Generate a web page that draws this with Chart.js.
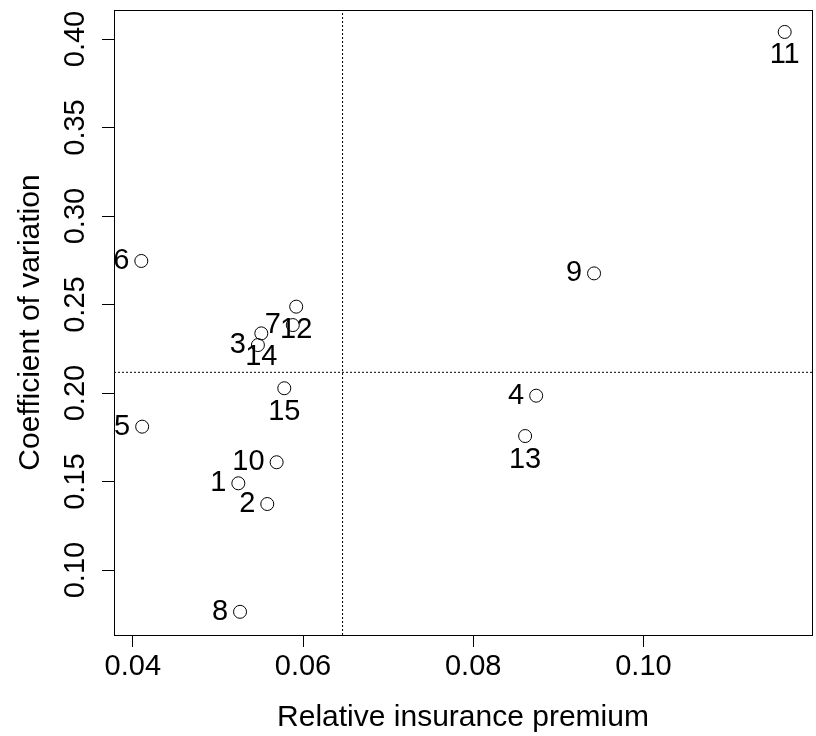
<!DOCTYPE html>
<html>
<head>
<meta charset="utf-8">
<script src="https://cdn.jsdelivr.net/npm/chart.js@4.4.1/dist/chart.umd.min.js"></script>
<style>
  html, body { margin: 0; padding: 0; background: #ffffff; }
  #wrap { width: 816px; height: 736px; }
</style>
</head>
<body>
<div id="wrap"><canvas id="cvPlot"></canvas></div>
<script>
// numero des observations
const ids = ['1', '2', '3', '4', '5', '6', '7', '8', '9', '10', '11', '12', '13', '14', '15'];
// prime d'assurance relative
const premium = [0.0524, 0.0558, 0.0547, 0.0874, 0.0411, 0.0410, 0.0588, 0.0526, 0.0942, 0.0569, 0.1166, 0.0592, 0.0861, 0.0551, 0.0578];
// coefficient de variation
const coefVar = [0.1490, 0.1373, 0.2271, 0.1985, 0.1810, 0.2746, 0.2384, 0.0764, 0.2676, 0.1609, 0.4040, 0.2488, 0.1757, 0.2337, 0.2027];
// cote de l'etiquette (gauche / dessous)
const labelSide = ['left', 'left', 'left', 'left', 'left', 'left', 'left', 'left', 'left', 'left', 'below', 'below', 'below', 'below', 'below'];

const xTicks = [0.04, 0.06, 0.08, 0.10];
const yTicks = [0.10, 0.15, 0.20, 0.25, 0.30, 0.35, 0.40];
const xRange = [0.03779, 0.11981];
const yRange = [0.0633, 0.4164];

const meanX = premium.reduce((a, b) => a + b, 0) / premium.length;
const meanY = coefVar.reduce((a, b) => a + b, 0) / coefVar.length;

const fontFamily = '"Liberation Sans", Arial, sans-serif';
Chart.defaults.color = '#000000';
Chart.defaults.font.family = fontFamily;

// pas de marge automatique pour les etiquettes des axes
function noPadding(scale) {
    scale.paddingTop = 0;
    scale.paddingBottom = 0;
    scale.paddingLeft = 0;
    scale.paddingRight = 0;
}

// cadre complet autour de la zone de trace
const boxPlugin = {
    id: 'boxPlugin',
    afterDraw(chart) {
        const { ctx, chartArea: a } = chart;
        ctx.save();
        ctx.strokeStyle = '#000000';
        ctx.lineWidth = 1;
        ctx.strokeRect(Math.round(a.left) + 0.5, Math.round(a.top) + 0.5,
            Math.round(a.right - a.left), Math.round(a.bottom - a.top));
        ctx.restore();
    }
};

// etiquettes des points
const pointLabels = {
    id: 'pointLabels',
    afterDatasetsDraw(chart) {
        const meta = chart.getDatasetMeta(2);
        const ctx = chart.ctx;
        ctx.save();
        ctx.font = '29px ' + fontFamily;
        ctx.fillStyle = '#000000';
        ctx.textBaseline = 'middle';
        meta.data.forEach((pt, i) => {
            if (labelSide[i] === 'left') {
                ctx.textAlign = 'right';
                ctx.fillText(ids[i], pt.x - 12, pt.y);
            } else {
                ctx.textAlign = 'center';
                ctx.fillText(ids[i], pt.x, pt.y + 23.5);
            }
        });
        ctx.restore();
    }
};

const refLine = {
    type: 'line',
    borderColor: '#000000',
    borderWidth: 1,
    borderDash: [2, 2],
    pointRadius: 0,
    pointHoverRadius: 0,
    fill: false
};

new Chart(document.getElementById('cvPlot').getContext('2d'), {
    type: 'scatter',
    data: {
        datasets: [
            Object.assign({ label: 'mean x', data: [{ x: meanX, y: yRange[0] }, { x: meanX, y: yRange[1] }] }, refLine),
            Object.assign({ label: 'mean y', data: [{ x: xRange[0], y: meanY }, { x: xRange[1], y: meanY }] }, refLine),
            {
                label: 'obs',
                data: premium.map((p, i) => ({ x: p, y: coefVar[i] })),
                pointRadius: 6.5,
                pointHoverRadius: 6.5,
                pointBorderWidth: 1,
                pointBorderColor: '#000000',
                pointBackgroundColor: 'rgba(0,0,0,0)'
            }
        ]
    },
    options: {
        responsive: true,
        maintainAspectRatio: false,
        animation: false,
        layout: { autoPadding: false, padding: { top: 10, right: 4, left: 0, bottom: 0 } },
        scales: {
            x: {
                type: 'linear',
                min: xRange[0],
                max: xRange[1],
                afterBuildTicks: (scale) => { scale.ticks = xTicks.map(v => ({ value: v })); },
                afterFit: (scale) => { scale.height = 101; noPadding(scale); },
                grid: { display: true, drawOnChartArea: false, drawTicks: true, tickLength: 12, color: '#000000' },
                border: { display: true, color: '#000000', width: 1 },
                ticks: {
                    padding: 3,
                    font: { size: 29 },
                    callback: (v) => v.toFixed(2)
                },
                title: {
                    display: true,
                    text: 'Relative insurance premium',
                    font: { size: 30 },
                    padding: { top: 0, bottom: 0.5 }
                }
            },
            y: {
                type: 'linear',
                min: yRange[0],
                max: yRange[1],
                afterBuildTicks: (scale) => { scale.ticks = yTicks.map(v => ({ value: v })); },
                afterFit: (scale) => { scale.width = 114; noPadding(scale); },
                grid: { display: true, drawOnChartArea: false, drawTicks: true, tickLength: 12, color: '#000000' },
                border: { display: true, color: '#000000', width: 1 },
                ticks: {
                    minRotation: 90,
                    maxRotation: 90,
                    crossAlign: 'center',
                    padding: -2,
                    font: { size: 29 },
                    callback: (v) => v.toFixed(2)
                },
                title: {
                    display: true,
                    text: 'Coefficient of variation',
                    font: { size: 30 },
                    padding: { top: 13, bottom: 0 }
                }
            }
        },
        plugins: {
            legend: { display: false },
            tooltip: { enabled: false }
        }
    },
    plugins: [boxPlugin, pointLabels]
});
</script>
</body>
</html>
